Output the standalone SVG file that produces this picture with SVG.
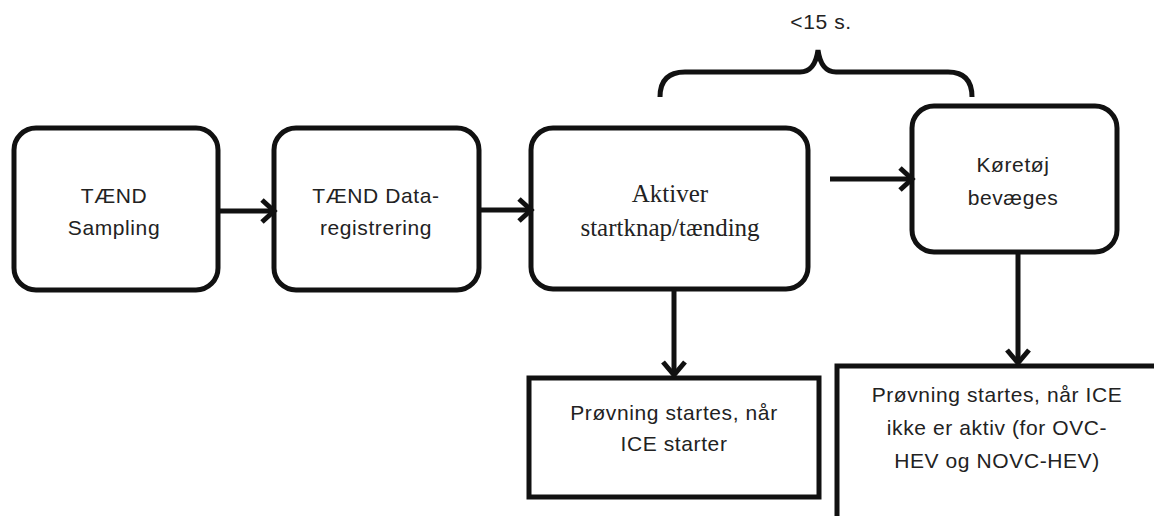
<svg xmlns="http://www.w3.org/2000/svg" width="1154" height="516" viewBox="0 0 1154 516">
<style>
.box{fill:#fff;stroke:#111;stroke-width:5}
.ln{fill:none;stroke:#111;stroke-width:5}
.hd{fill:none;stroke:#111;stroke-width:5;stroke-linejoin:miter;stroke-linecap:butt}
.sans{font-family:"Liberation Sans",Arial,sans-serif;font-size:21px;letter-spacing:0.6px;fill:#222;text-anchor:middle}
.serif{font-family:"Liberation Serif","Times New Roman",serif;font-size:25px;fill:#222;text-anchor:middle}
</style>
<rect width="1154" height="516" fill="#fff"/>
<g id="n1"><rect class="box" x="14" y="128" width="204" height="162" rx="22"/>
<text class="sans" x="114" y="203">TÆND</text><text class="sans" x="114" y="235">Sampling</text></g>
<g id="n2"><rect class="box" x="274" y="128" width="205" height="162" rx="22"/>
<text class="sans" x="376" y="203">TÆND Data-</text><text class="sans" x="376" y="235">registrering</text></g>
<g id="n3"><rect class="box" x="531" y="128" width="277" height="161" rx="22"/>
<text class="serif" x="670" y="202">Aktiver</text><text class="serif" x="670" y="236">startknap/tænding</text></g>
<g id="n4"><rect class="box" x="912" y="106" width="205" height="146" rx="22"/>
<text class="sans" x="1013" y="172">Køretøj</text><text class="sans" x="1013" y="205">bevæges</text></g>
<g id="n5"><rect class="box" x="529" y="378" width="290" height="119"/>
<text class="sans" x="674" y="420">Prøvning startes, når</text><text class="sans" x="674" y="451">ICE starter</text></g>
<g id="n6"><rect class="box" x="837" y="366" width="330" height="168"/>
<text class="sans" x="997" y="402">Prøvning startes, når ICE</text><text class="sans" x="997" y="435">ikke er aktiv (for OVC-</text><text class="sans" x="997" y="468">HEV og NOVC-HEV)</text></g>
<g id="brace"><path class="ln" d="M660 97 Q660 72 685 72 L800 72 Q815 72 818 50 Q821 72 836 72 L948 72 Q972 72 972 97"/>
<text class="sans" x="821" y="29">&lt;15 s.</text></g>
<g id="connectors">
<path class="ln" d="M218 211 H272"/><path class="hd" d="M262 200 L274 211 L262 222"/>
<path class="ln" d="M479 210 H529"/><path class="hd" d="M519 199 L531 210 L519 221"/>
<path class="ln" d="M830 179 H910"/><path class="hd" d="M900 168 L912 179 L900 190"/>
<path class="ln" d="M674 289 V374"/><path class="hd" d="M663 362 L674 375 L685 362"/>
<path class="ln" d="M1018 252 V362"/><path class="hd" d="M1007 350 L1018 363 L1029 350"/>
</g>
</svg>
